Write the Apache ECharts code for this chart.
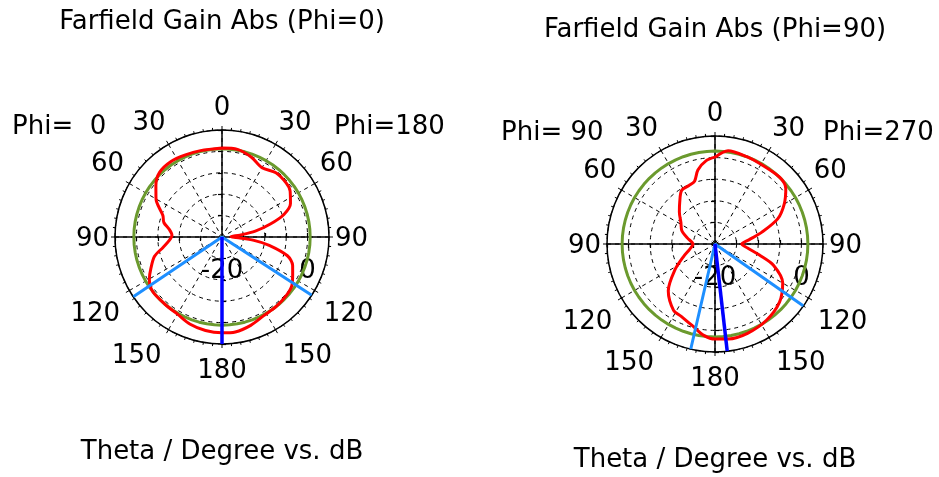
<!DOCTYPE html>
<html><head><meta charset="utf-8">
<script src="https://cdn.jsdelivr.net/npm/echarts@6/dist/echarts.min.js"></script>
<style>html,body{margin:0;padding:0;background:#fff}#c{width:939px;height:477px}</style>
</head><body><div id="c"></div>
<script>
// ---- data ----
const thetaTicks = [0, 30, 60, 90, 120, 150, 180, 210, 240, 270, 300, 330];
const radialRange = [-20, 5];
const radialStep = 5;
const radialLabels = [-20, 0];

// Phi=0 cut (left plot): display angle (clockwise from top) and gain in dB
const angPhi0 = [0,10,20,30,40,50,56,64,70,75,80,84,88,92,96,100,106,112,118,125,132,142,152,162,172,180,190,200,210,220,232,240,246,254,260,266,272,278,284,290,300,308,316,326,336,346,360];
const gainPhi0 = [0.8,0.8,-0.1,-1.3,-0.4,-0.4,-0.8,-2.2,-4.6,-8.3,-12.1,-15.8,-17.9,-16.7,-12.5,-8.8,-4.1,-2.2,-1.3,-0.1,0.3,0.6,0.8,1.7,2.4,2.4,2.2,1.7,0.8,0.6,0.6,-0.4,-1.8,-3.6,-6.0,-7.6,-8.3,-7.6,-6.0,-5.3,-2.2,-0.4,1.0,1.3,1.0,0.8,0.8];

// Phi=90 cut (right plot)
const angPhi90 = [0,8,20,30,44,52,60,68,76,83,90,97,104,110,120,132,146,160,172,180,187,195,205,212,225,237,248,258,270,282,292,302,312,320,328,336,342,347,354,360];
const gainPhi90 = [0.1,1.8,1.5,1.3,1.5,0.8,-1.5,-4.3,-8.9,-12.1,-13.8,-12.4,-9.4,-5.6,-1.9,0.1,1.3,2.0,2.2,2.0,1.3,-0.3,-1.5,-1.9,-4.7,-8.9,-12.1,-14.0,-14.9,-13.5,-11.7,-10.7,-8.9,-7.3,-5.4,-5.2,-4.7,-2.4,-0.6,0.1];

const threeDbLevel = [0.6, 1.5];        // green circle level (dB)
const mainLobeDir = [180, 173.5];       // dark blue direction
const beamEdges = [[123, 236], [125, 193]]; // light blue 3 dB width edges

const titles = ['Farfield Gain Abs (Phi=0)', 'Farfield Gain Abs (Phi=90)'];
const phiLeftLabels = ['Phi=  0', 'Phi= 90'];
const phiRightLabels = ['Phi=180', 'Phi=270'];
const xTitle = 'Theta / Degree vs. dB';

// ---- layout ----
const FONT = 'DejaVu Sans';
const FS = 26;
const plots = [
  { cx: 222, cy: 237, r: 107, titleY: 22, bottomY: 452, phiY: 127, phiL: 12, phiR: 334, ang: angPhi0, gain: gainPhi0 },
  { cx: 715, cy: 244, r: 108, titleY: 30, bottomY: 460, phiY: 133, phiL: 501, phiR: 823, ang: angPhi90, gain: gainPhi90 }
];

const polar = [], angleAxis = [], radiusAxis = [], series = [], graphic = [];
const circleAngles = [];
for (let a = 0; a <= 360; a += 5) circleAngles.push(a);

const angleLabel = v => {
  const t = String(v <= 180 ? v : 360 - v);
  if (v > 90 && v < 270) return '{lo|' + t + '}';
  if (v === 90 || v === 270) return '{mid|' + t + '}';
  return '{hi|' + t + '}';
};
const richBase = { color: '#000', fontFamily: FONT, fontSize: FS };

plots.forEach((p, i) => {
  const base = i * 4;
  const starts = [90, 0, 180, 270];
  starts.forEach((sa, k) => {
    const idx = base + k;
    const main = k === 0;
    polar.push({ center: [p.cx, p.cy], radius: p.r });
    angleAxis.push({
      polarIndex: idx, type: 'value', min: 0, max: 360, interval: 30,
      startAngle: sa, clockwise: true, show: main,
      axisLine: { show: true, lineStyle: { color: '#000', width: 1.5 } },
      axisTick: { show: true, length: 4, lineStyle: { color: '#000', width: 1 } },
      minorTick: { show: true, splitNumber: 6, length: 2.5, lineStyle: { color: '#000', width: 1 } },
      splitLine: { show: true, lineStyle: { color: '#000', width: 1, type: [4, 4] } },
      axisLabel: {
        show: true, margin: 6, color: '#000', fontFamily: FONT, fontSize: FS,
        formatter: angleLabel,
        rich: {
          lo: Object.assign({ padding: [8, 4, 0, 4] }, richBase),
          mid: Object.assign({ padding: [5, 0, 0, 0] }, richBase),
          hi: Object.assign({ padding: [0, 0, 3, 0] }, richBase)
        }
      }
    });
    radiusAxis.push({
      polarIndex: idx, type: 'value', min: radialRange[0], max: radialRange[1], interval: radialStep,
      axisLine: { show: true, lineStyle: { color: '#000', width: 1.5 } },
      axisTick: { show: true, length: 4, lineStyle: { color: '#000', width: 1.2 } },
      splitLine: { show: main, lineStyle: { color: '#000', width: 1, type: [4, 4] } },
      axisLabel: {
        show: k === 1, showMinLabel: true, showMaxLabel: false,
        margin: -34, align: 'center', verticalAlign: 'middle',
        color: '#000', fontFamily: FONT, fontSize: FS,
        formatter: v => radialLabels.indexOf(v) >= 0 ? String(v) : ''
      }
    });
  });

  series.push({
    type: 'line', coordinateSystem: 'polar', polarIndex: base, silent: true,
    data: circleAngles.map(a => [threeDbLevel[i], a]),
    showSymbol: false, lineStyle: { color: '#6b9a2e', width: 3 }, z: 3
  });
  series.push({
    type: 'line', coordinateSystem: 'polar', polarIndex: base, silent: true,
    data: p.ang.map((a, k) => [p.gain[k], a]),
    showSymbol: false, smooth: 0.3, lineStyle: { color: '#ff0000', width: 3 }, z: 4
  });
  series.push({
    type: 'line', coordinateSystem: 'polar', polarIndex: base, silent: true,
    data: [[radialRange[1], beamEdges[i][0]], [radialRange[0], beamEdges[i][0]], [radialRange[1], beamEdges[i][1]]],
    showSymbol: false, lineStyle: { color: '#1e8fff', width: 3 }, z: 5
  });
  series.push({
    type: 'line', coordinateSystem: 'polar', polarIndex: base, silent: true,
    data: [[radialRange[0], mainLobeDir[i]], [radialRange[1], mainLobeDir[i]]],
    showSymbol: false, lineStyle: { color: '#0000ff', width: 3.5 }, z: 6
  });

  const txt = (text, x, y, align) => ({
    type: 'text', x, y, silent: true,
    style: { text, fill: '#000', font: FS + 'px "' + FONT + '"', textAlign: align, textVerticalAlign: 'middle' }
  });
  graphic.push(txt(titles[i], p.cx, p.titleY, 'center'));
  graphic.push(txt(xTitle, p.cx, p.bottomY, 'center'));
  graphic.push(txt(phiLeftLabels[i], p.phiL, p.phiY, 'left'));
  graphic.push(txt(phiRightLabels[i], p.phiR, p.phiY, 'left'));
});

const chart = echarts.init(document.getElementById('c'), null, { renderer: 'canvas' });
chart.setOption({
  animation: false,
  backgroundColor: '#fff',
  polar, angleAxis, radiusAxis, series, graphic
});
</script>
</body></html>
